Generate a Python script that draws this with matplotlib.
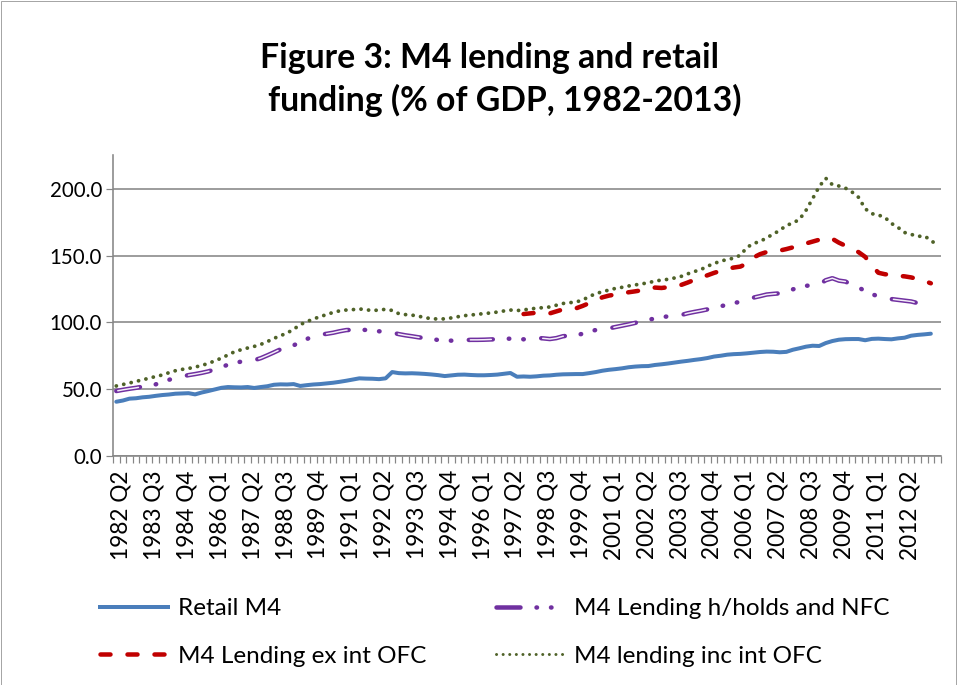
import numpy as np
import matplotlib
matplotlib.use("Agg")
import matplotlib.pyplot as plt
import matplotlib.transforms as mtransforms
from matplotlib.lines import Line2D
from matplotlib.patches import Rectangle

plt.rcParams['font.family'] = ['Lato', 'DejaVu Sans']
plt.rcParams['lines.scale_dashes'] = False

# ---------------- data (quarterly, 1982 Q2 .. 2013 Q3, % of GDP) ----------------
retail_m4 = [
    40.6, 41.5, 42.9, 43.2, 43.9, 44.3, 45.0, 45.6, 46.0, 46.6,
    46.8, 47.0, 46.1, 47.5, 48.6, 49.8, 51.0, 51.6, 51.4, 51.3,
    51.6, 50.9, 51.6, 52.2, 53.3, 53.6, 53.5, 53.8, 52.4, 53.0,
    53.5, 53.8, 54.3, 54.8, 55.5, 56.3, 57.2, 58.1, 57.9, 57.8,
    57.5, 58.1, 62.8, 62.0, 61.8, 61.9, 61.7, 61.4, 61.0, 60.5,
    59.8, 60.3, 60.8, 60.9, 60.6, 60.4, 60.4, 60.6, 60.9, 61.5,
    62.1, 59.3, 59.5, 59.3, 59.6, 60.1, 60.3, 60.8, 61.1, 61.2,
    61.3, 61.3, 62.0, 62.8, 63.8, 64.5, 65.0, 65.6, 66.4, 66.9,
    67.2, 67.3, 68.1, 68.6, 69.2, 69.9, 70.6, 71.2, 71.9, 72.5,
    73.3, 74.4, 75.0, 75.8, 76.2, 76.4, 76.8, 77.3, 77.8, 78.1,
    78.0, 77.6, 77.9, 79.5, 80.6, 81.8, 82.5, 82.3, 84.5, 86.0,
    87.0, 87.4, 87.5, 87.5, 86.6, 87.6, 87.8, 87.5, 87.3, 88.0,
    88.5, 90.0, 90.6, 91.0, 91.5, None,
]

lending_hh_nfc = [
    48.6, 49.5, 50.3, 51.0, 51.9, 52.8, 53.6, 55.3, 57.0, 58.3,
    59.5, 60.5, 61.3, 62.2, 63.3, 64.8, 66.5, 68.3, 69.6, 70.6,
    71.2, 71.7, 73.2, 75.3, 77.5, 79.8, 81.5, 82.8, 85.2, 87.5,
    89.5, 90.8, 91.4, 92.2, 93.3, 94.2, 94.4, 94.5, 94.3, 93.8,
    93.3, 93.0, 92.3, 91.2, 90.3, 89.6, 88.8, 88.2, 87.5, 86.8,
    86.5, 86.3, 86.4, 86.7, 86.9, 86.9, 87.0, 87.2, 87.4, 87.6,
    87.8, 87.6, 87.3, 87.8, 88.3, 88.0, 87.5, 88.2, 89.6, 90.1,
    90.3, 91.5, 93.0, 94.3, 95.0, 95.5, 96.5, 97.5, 98.5, 99.6,
    100.8, 102.0, 102.8, 103.8, 104.5, 105.0, 105.5, 106.8, 107.8, 108.7,
    109.7, 110.9, 112.0, 113.2, 114.4, 115.4, 117.2, 118.5, 119.6, 120.8,
    121.3, 121.7, 123.0, 124.7, 126.0, 127.3, 127.9, 128.3, 131.5, 133.0,
    131.2, 130.5, 128.0, 126.0, 123.5, 121.0, 119.6, 118.2, 117.4, 116.8,
    116.2, 115.6, 114.4, 113.0, 112.0, None,
]

lending_ex_int_ofc = [None] * 62 + [
    106.2, 106.7, 107.2, 107.0, 106.7, 108.2, 109.7, 110.0,
    110.5, 112.3, 114.4, 116.6, 118.7, 120.0, 120.8, 121.7, 122.5, 123.2,
    124.0, 125.0, 126.0, 125.7, 126.3, 127.3, 128.0, 129.8, 131.8, 133.6,
    135.2, 137.0, 138.5, 140.0, 141.0, 141.7, 144.0, 148.5, 151.0, 152.6,
    153.0, 153.7, 154.8, 156.1, 157.3, 159.0, 160.4, 161.8, 163.3, 162.5,
    159.6, 157.3, 155.0, 152.5, 149.0, 142.9, 137.1, 136.0, 135.5, 134.8,
    134.4, 133.6, 132.4, 131.0, 129.2, None,
]

lending_inc_int_ofc = [
    52.4, 53.5, 54.6, 55.8, 57.0, 58.2, 59.5, 60.6, 62.3, 63.8,
    64.8, 65.5, 66.5, 67.8, 69.2, 71.2, 73.2, 75.6, 78.0, 79.5,
    80.8, 82.0, 83.5, 85.6, 88.0, 90.0, 92.0, 94.8, 98.3, 100.5,
    102.5, 104.2, 105.8, 107.4, 108.6, 109.2, 109.5, 110.0, 109.5, 108.7,
    109.3, 109.7, 108.9, 106.5, 105.8, 105.4, 104.6, 103.5, 102.7, 102.5,
    102.6, 103.3, 104.2, 105.0, 105.5, 106.0, 106.6, 107.0, 107.7, 108.5,
    109.2, 108.8, 109.3, 110.0, 110.6, 111.0, 111.5, 112.8, 114.1, 114.7,
    115.2, 116.8, 119.2, 121.6, 122.8, 124.2, 125.4, 126.2, 127.2, 128.0,
    128.8, 129.6, 130.9, 131.6, 132.2, 133.2, 134.4, 136.3, 138.0, 139.5,
    142.0, 144.0, 145.8, 147.0, 148.0, 150.2, 156.0, 159.0, 160.5, 163.2,
    166.0, 168.8, 172.5, 174.3, 177.0, 183.8, 192.5, 201.5, 207.8, 203.0,
    202.0, 200.4, 197.5, 193.5, 185.0, 181.3, 180.3, 178.5, 174.0, 171.0,
    167.2, 165.8, 164.3, 164.6, 161.5, 157.3,
]

tick_labels = [
    "1982 Q2", "1983 Q3", "1984 Q4", "1986 Q1", "1987 Q2", "1988 Q3",
    "1989 Q4", "1991 Q1", "1992 Q2", "1993 Q3", "1994 Q4", "1996 Q1",
    "1997 Q2", "1998 Q3", "1999 Q4", "2001 Q1", "2002 Q2", "2003 Q3",
    "2004 Q4", "2006 Q1", "2007 Q2", "2008 Q3", "2009 Q4", "2011 Q1",
    "2012 Q2",
]
label_every = 5
y_ticks = [0, 50, 100, 150, 200]

series_names = ["Retail M4", "M4 Lending h/holds and NFC",
                "M4 Lending ex int OFC", "M4 lending inc int OFC"]

# ---------------- figure ----------------
W, H = 957, 685
DPI = 100
fig = plt.figure(figsize=(W / DPI, H / DPI), dpi=DPI)
PX = 72.0 / DPI  # points per pixel

def fx(px):
    return px / W

def fy(py):
    return 1 - py / H

ax_l, ax_r, ax_t, ax_b = 113, 940.7, 155.25, 456
ax = fig.add_axes([fx(ax_l), fy(ax_b), fx(ax_r - ax_l), (ax_b - ax_t) / H])

def arr(v):
    return np.array([np.nan if x is None else x for x in v], dtype=float)

n = len(retail_m4)
x = np.arange(n)

grey = '#868686'

# Retail M4
ax.plot(x, arr(retail_m4), color='#4A7EBB', lw=4.0 * PX, solid_capstyle='round',
        solid_joinstyle='round', zorder=3)

# Lending h/holds and NFC (long dash dot dot, hollow dashes)
pur_pattern = [24 * PX, 16 * PX, 0.5 * PX, 14 * PX, 0.5 * PX, 17.5 * PX]
ln_p, = ax.plot(x, arr(lending_hh_nfc), color='#7030A0', lw=4.5 * PX, zorder=4)
ln_p.set_linestyle((0, pur_pattern))
ln_p.set_dash_capstyle('round')
ln_p.set_dash_joinstyle('round')
period = sum(pur_pattern)
ln_w, = ax.plot(x, arr(lending_hh_nfc), color='#F4EEF9', lw=1.5 * PX, zorder=5)
ln_w.set_linestyle((period - 1.5 * PX, [21 * PX, period - 21 * PX]))
ln_w.set_dash_capstyle('round')

# Lending ex int OFC (dashed)
ln_r, = ax.plot(x, arr(lending_ex_int_ofc), color='#C00000', lw=4.5 * PX, zorder=6)
ln_r.set_linestyle((0, [10 * PX, 17 * PX]))
ln_r.set_dash_capstyle('round')

# Lending inc int OFC (round dots)
ln_g, = ax.plot(x, arr(lending_inc_int_ofc), color='#4F6228', lw=3.8 * PX, zorder=7)
ln_g.set_linestyle((0, [0.1 * PX, 7.5 * PX]))
ln_g.set_dash_capstyle('round')

# axes styling
ax.set_xlim(-0.5, n - 0.5)
ax.set_ylim(0, 225)
ax.set_yticks(y_ticks)
ax.set_yticklabels([f"{v:.1f}" for v in y_ticks])
ax.yaxis.grid(True, color=grey, lw=1.6 * PX)
ax.set_axisbelow(True)
for s in ['top', 'right']:
    ax.spines[s].set_visible(False)
for s in ['left', 'bottom']:
    ax.spines[s].set_color(grey)
    ax.spines[s].set_linewidth(1.6 * PX)

ax.set_xticks(np.arange(-0.5, n, 1))
ax.set_xticklabels([])
ax.tick_params(axis='x', which='major', length=7 * PX, width=1.2 * PX, color=grey, direction='out')
ax.set_xticks(np.arange(0, n, label_every)[:len(tick_labels)], labels=tick_labels, minor=True)
ax.tick_params(axis='x', which='minor', length=0, pad=14 * PX, labelsize=16.3,
               labelrotation=90)
ax.tick_params(axis='y', length=7 * PX, width=1.2 * PX, color=grey, pad=4 * PX,
               labelsize=14.8)
shift = mtransforms.ScaledTranslation(5 / DPI, 0, fig.dpi_scale_trans)
for t in ax.get_xticklabels(minor=True):
    t.set_va('top')
    t.set_ha('center')
    t.set_transform(t.get_transform() + shift)

# title
fig.text(fx(490), fy(58), "Figure 3: M4 lending and retail", ha='center', va='center',
         fontsize=24.3, fontweight='bold')
fig.text(fx(505), fy(100), "funding (% of GDP, 1982-2013)", ha='center', va='center',
         fontsize=24.3, fontweight='bold')

# legend (row-wise order: Retail, h/holds ; ex int, inc int)
h_blue = Line2D([], [], color='#4A7EBB', lw=4.0 * PX)
h_pur = Line2D([], [], color='#7030A0', lw=4.5 * PX, dash_capstyle='round',
               linestyle=(0, pur_pattern))
h_red = Line2D([], [], color='#C00000', lw=4.5 * PX, dash_capstyle='round',
               linestyle=(0, [10 * PX, 17 * PX]))
h_grn = Line2D([], [], color='#4F6228', lw=3.0 * PX, dash_capstyle='round',
               linestyle=(0, [0.1 * PX, 6.5 * PX]))

leg_fs = 17.5
em = leg_fs / PX
leg = fig.legend([h_blue, h_red, h_pur, h_grn],
                 [series_names[0], series_names[2], series_names[1], series_names[3]],
                 ncol=2, loc='upper left', bbox_to_anchor=(fx(100), fy(598)),
                 frameon=False, fontsize=leg_fs, handlelength=68 / em,
                 handletextpad=10 / em, columnspacing=70 / em, labelspacing=1.1,
                 borderaxespad=0, borderpad=0)

# chart border
fig.patches.append(Rectangle((0.5 / W, 0.5 / H), (W - 2) / W, (H - 1.5) / H,
                             transform=fig.transFigure, fill=False,
                             edgecolor='#A6A6A6', lw=1.0 * PX))

fig.savefig("out.png", dpi=DPI)
